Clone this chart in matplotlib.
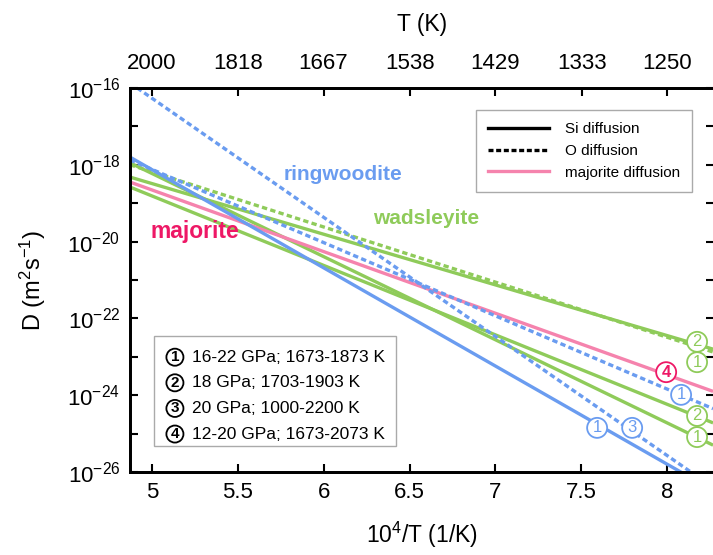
import numpy as np
import matplotlib
matplotlib.use('Agg')
import matplotlib.pyplot as plt
from matplotlib.lines import Line2D
from matplotlib.patches import Rectangle

plt.rcParams['font.family'] = ['Liberation Sans', 'DejaVu Sans']
plt.rcParams['mathtext.fontset'] = 'custom'
plt.rcParams['mathtext.rm'] = 'Liberation Sans'
plt.rcParams['mathtext.it'] = 'Liberation Sans:italic'
plt.rcParams['mathtext.bf'] = 'Liberation Sans:bold'

BLUE = '#6a9cf0'
GREEN = '#8fcb5a'
PINK = '#f583ad'
RED = '#ee1866'

# Arrhenius lines: log10 D at the two ends of the 10^4/T axis
x_ends = [4.872, 8.267]
ring_si_1 = [-17.80, -26.48]
ring_o_3 = [-15.87, -26.40]
ring_o_1 = [-17.875, -24.35]
wad_si_top = [-18.32, -22.80]
wad_o = [-18.00, -22.875]
wad_si_2 = [-18.58, -24.72]
wad_si_1 = [-17.95, -25.30]
maj = [-18.45, -23.90]

# circled reference labels: (x, log10 D, number, colour)
ref_labels = [
    (7.592, -24.85, '1', BLUE), (7.796, -24.85, '3', BLUE),
    (8.081, -23.99, '1', BLUE), (7.994, -23.40, '4', RED),
    (8.174, -22.61, '2', GREEN), (8.174, -23.14, '1', GREEN),
    (8.174, -24.54, '2', GREEN), (8.174, -25.09, '1', GREEN),
]
ref_text = ['16-22 GPa; 1673-1873 K', '18 GPa; 1703-1903 K',
            '20 GPa; 1000-2200 K', '12-20 GPa; 1673-2073 K']
T_ticks = [2000, 1818, 1667, 1538, 1429, 1333, 1250]
x_ticks = [5, 5.5, 6, 6.5, 7, 7.5, 8]

fig = plt.figure(figsize=(7.13, 5.55), dpi=100)
ax = fig.add_axes([0.1823, 0.1495, 0.8185, 0.692])

dash = (0, (1.6, 1.0))
x = np.array(x_ends)


def line(vals, color, ls='-'):
    ax.plot(x, 10.0 ** np.array(vals), color=color, lw=2.4, ls=ls,
            solid_capstyle='butt', dash_capstyle='butt')


line(wad_si_top, GREEN)
line(wad_si_2, GREEN)
line(wad_si_1, GREEN)
line(wad_o, GREEN, dash)
line(maj, PINK)
line(ring_si_1, BLUE)
line(ring_o_3, BLUE, dash)
line(ring_o_1, BLUE, dash)

for lx, ly, num, col in ref_labels:
    ax.text(lx, 10.0 ** ly, num, color=col, fontsize=12, ha='center', va='center',
            fontweight='bold' if col == RED else 'normal',
            bbox=dict(boxstyle='circle,pad=0.15', fc='white', ec=col, lw=1.3))

ax.text(0.365, 0.775, 'ringwoodite', transform=ax.transAxes, color=BLUE,
        fontsize=15, fontweight='bold', ha='center', va='center')
ax.text(0.507, 0.66, 'wadsleyite', transform=ax.transAxes, color=GREEN,
        fontsize=15, fontweight='bold', ha='center', va='center')
ax.text(0.112, 0.625, 'majorite', transform=ax.transAxes, color=RED,
        fontsize=16.5, fontweight='bold', ha='center', va='center')

handles = [Line2D([], [], color='k', lw=2.4),
           Line2D([], [], color='k', lw=2.4, ls=(0, (1.5, 0.8))),
           Line2D([], [], color=PINK, lw=2.4)]
leg = ax.legend(handles, ['Si diffusion', 'O diffusion', 'majorite diffusion'],
                loc='upper right', bbox_to_anchor=(0.976, 0.962), fontsize=11,
                fancybox=False, edgecolor='#aaaaaa', framealpha=1,
                handlelength=4.0, handletextpad=1.0, borderpad=0.8,
                labelspacing=0.5)
leg.get_frame().set_linewidth(1.0)

ax.add_patch(Rectangle((0.041, 0.068), 0.414, 0.286, transform=ax.transAxes,
                       fc='white', ec='#aaaaaa', lw=1.0, zorder=5))
for i, txt in enumerate(ref_text):
    yy = 0.299 - i * 0.0667
    ax.text(0.077, yy, str(i + 1), transform=ax.transAxes, fontsize=11,
            fontweight='bold', ha='center', va='center', zorder=6,
            bbox=dict(boxstyle='circle,pad=0.1', fc='white', ec='k', lw=1.3))
    ax.text(0.107, yy, txt, transform=ax.transAxes, fontsize=12.5,
            ha='left', va='center', zorder=6)

ax.set_yscale('log')
ax.set_xlim(4.872, 8.27)
ax.set_ylim(1e-26, 1e-16)
ax.set_xticks(x_ticks)
ax.set_xticklabels([f'{v:g}' for v in x_ticks])
ax.set_yticks([10.0 ** e for e in range(-26, -15, 2)])
ax.set_yticks([10.0 ** e for e in range(-25, -16, 2)], minor=True)
ax.yaxis.set_minor_formatter(matplotlib.ticker.NullFormatter())
ax.tick_params(which='both', direction='in', length=6, width=1.5,
               labelsize=16, right=True, pad=7)
ax.set_xlabel('10$^4$/T (1/K)', fontsize=16.5, labelpad=12)
ax.set_ylabel('D (m$^2$s$^{-1}$)', fontsize=17, labelpad=14)
for s in ax.spines.values():
    s.set_linewidth(2)

ax2 = ax.twiny()
ax2.set_xlim(ax.get_xlim())
ax2.set_xticks([1e4 / t for t in T_ticks])
ax2.set_xticklabels([str(t) for t in T_ticks])
ax2.tick_params(direction='in', length=6, width=1.5, labelsize=16, pad=10)
ax2.set_xlabel('T (K)', fontsize=16.5, labelpad=16)
for s in ax2.spines.values():
    s.set_linewidth(2)

fig.savefig('out.png', dpi=100)
